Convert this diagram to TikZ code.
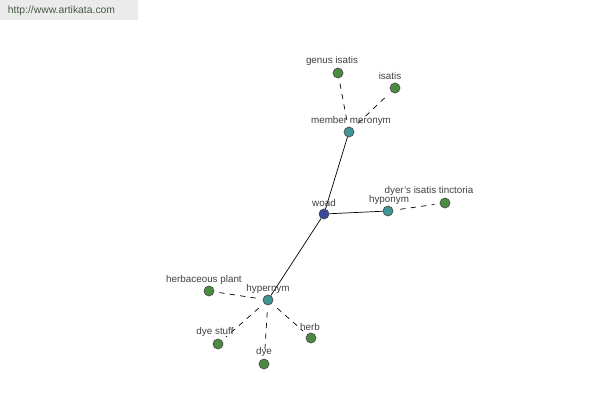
\documentclass[tikz,border=0pt]{standalone}
\usepackage{fontspec}
\setmainfont{Liberation Sans}
\usepackage{tikz}

\definecolor{hubblue}{RGB}{58,72,158}
\definecolor{relteal}{RGB}{64,150,150}
\definecolor{leafgreen}{RGB}{74,140,64}
\definecolor{tagtext}{RGB}{70,90,70}

\begin{document}
\begin{tikzpicture}[main/.style = {draw=black!70, circle, inner sep=0pt, minimum size=0.2cm},
    txt/.style = {inner sep=0pt, font=\fontsize{5.6}{6}\selectfont, text=black!75},
    dashlink/.style = {dash pattern=on 3pt off 3pt, shorten <=4pt, shorten >=3pt}]
        \useasboundingbox (0,0) rectangle (12,8);
        \fill[black!8] (0,7.6) rectangle (2.76,8);
        \node[inner sep=0pt, font=\fontsize{5.9}{7}\selectfont, text=tagtext] (site) at (1.23,7.78) {http://www.artikata.com};
        \node[main, fill=hubblue] (woad) at (6.48,3.72) {};
        \node[main, fill=relteal] (mer) at (6.98,5.36) {};
        \node[main, fill=leafgreen] (genus) at (6.76,6.54) {};
        \node[main, fill=leafgreen] (isatis) at (7.90,6.24) {};
        \node[main, fill=relteal] (hypo) at (7.76,3.78) {};
        \node[main, fill=leafgreen] (dyer) at (8.90,3.94) {};
        \node[main, fill=relteal] (hyper) at (5.36,2.00) {};
        \node[main, fill=leafgreen] (plant) at (4.18,2.18) {};
        \node[main, fill=leafgreen] (stuff) at (4.36,1.12) {};
        \node[main, fill=leafgreen] (dye) at (5.28,0.72) {};
        \node[main, fill=leafgreen] (herb) at (6.22,1.24) {};
        \draw (woad) -- (mer);
        \draw (woad) -- (hypo);
        \draw (woad) -- (hyper);
        \draw[dashlink] (mer) -- (genus);
        \draw[dashlink] (mer) -- (isatis);
        \draw[dashlink] (hypo) -- (dyer);
        \draw[dashlink] (hyper) -- (plant);
        \draw[dashlink] (hyper) -- (stuff);
        \draw[dashlink] (hyper) -- (dye);
        \draw[dashlink] (hyper) -- (herb);
        \node[txt] (woadtxt) at (6.48,3.94) {woad};
        \node[txt] (mertxt) at (7.02,5.58) {member meronym};
        \node[txt] (genustxt) at (6.64,6.78) {genus isatis};
        \node[txt] (isatistxt) at (7.80,6.48) {isatis};
        \node[txt] (hypotxt) at (7.78,4.00) {hyponym};
        \node[txt] (dyertxt) at (8.58,4.18) {dyer's isatis tinctoria};
        \node[txt] (hypertxt) at (5.36,2.22) {hypernym};
        \node[txt] (planttxt) at (4.08,2.40) {herbaceous plant};
        \node[txt] (stufftxt) at (4.30,1.36) {dye stuff};
        \node[txt] (dyetxt) at (5.28,0.96) {dye};
        \node[txt] (herbtxt) at (6.20,1.46) {herb};
      \end{tikzpicture}
\end{document}
